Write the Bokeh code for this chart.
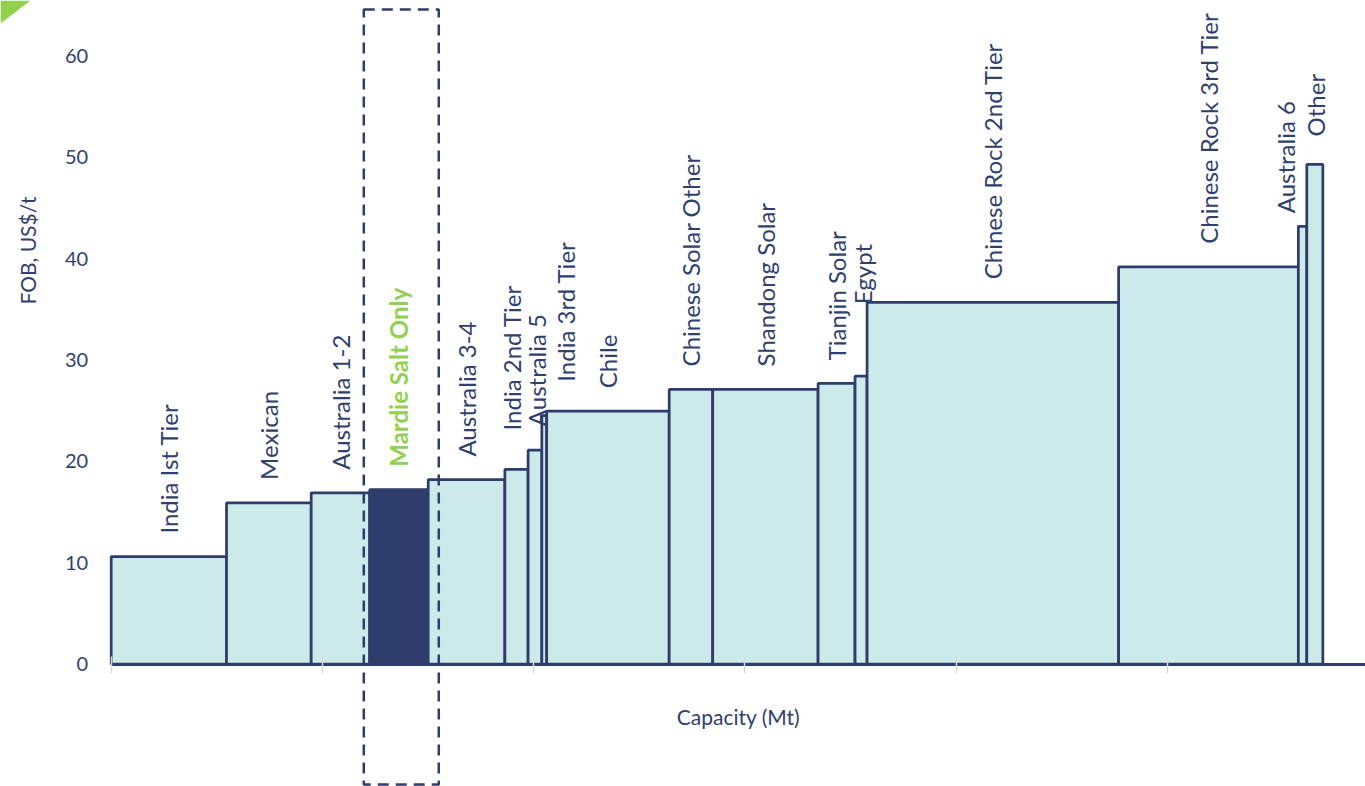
import numpy as np
from bokeh.plotting import figure
from bokeh.models import (ColumnDataSource, FixedTicker, BoxAnnotation,
                          PolyAnnotation, Range1d, LinearAxis)
from bokeh.embed import file_html
from bokeh.resources import INLINE
from bokeh.core.properties import value

# ---------------- data ----------------
producers = ["India Ist Tier", "Mexican", "Australia 1-2", "Mardie Salt Only",
             "Australia 3-4", "India 2nd Tier", "Australia 5", "India 3rd Tier",
             "Chile", "Chinese Solar Other", "Shandong Solar", "Tianjin Solar",
             "Egypt", "Chinese Rock 2nd Tier", "Chinese Rock 3rd Tier",
             "Australia 6", "Other"]
capacity_mt = [5.46, 4.01, 2.77, 2.77, 3.63, 1.10, 0.65, 0.23, 5.80, 2.06,
               4.99, 1.75, 0.57, 11.91, 8.51, 0.40, 0.76]
cost_usd_t = [10.6, 15.9, 16.9, 17.2, 18.2, 19.2, 21.1, 24.5, 24.95, 27.1,
              27.1, 27.7, 28.4, 35.7, 39.2, 43.2, 49.3]
highlight = "Mardie Salt Only"
x_ticks = [0, 10, 20, 30, 40, 50]
y_ticks = [0, 10, 20, 30, 40, 50, 60]
x_title = "Capacity (Mt)"
y_title = "FOB, US$/t"

# ---------------- styles ----------------
NAVY = "#2E3D6B"
TEXT = "#2F3F6E"
TEAL = "#CDEAEA"
GREEN = "#92D050"
FONT = "Lato"
# label nudges in screen px: (dx, extra lift)
label_nudge = {"India 2nd Tier": (-5, 16), "Australia 5": (2, 1),
               "India 3rd Tier": (21, 11), "Egypt": (1, 49),
               "Australia 6": (-17, -10), "Other": (1, 5)}
BASE_LIFT = 23

right = np.cumsum(capacity_mt)
left = right - np.array(capacity_mt)
center = (left + right) / 2

W, H = 1365, 786
PX_PER_MT = 21.12
PX_PER_USD = 10.133
X0_PX, Y0_PX = 110.7, 663.5      # where (0, 0) sits on the canvas
x_start, x_end = -X0_PX / PX_PER_MT, (W - X0_PX) / PX_PER_MT
y_start, y_end = -(H - Y0_PX) / PX_PER_USD, Y0_PX / PX_PER_USD

p = figure(width=W, height=H, output_backend="svg", toolbar_location=None,
           x_range=Range1d(x_start, x_end), y_range=Range1d(y_start, y_end),
           x_axis_location=None, y_axis_location=None,
           min_border_left=0, min_border_right=0, min_border_top=0,
           min_border_bottom=0)
p.outline_line_color = None
p.xgrid.visible = False
p.ygrid.visible = False
p.background_fill_color = "white"
p.border_fill_color = "white"

fills = [NAVY if n == highlight else TEAL for n in producers]
bars = ColumnDataSource(dict(left=left, right=right, top=cost_usd_t,
                             fill=fills, name=producers))
p.quad(left="left", right="right", bottom=0, top="top", source=bars,
       fill_color="fill", line_color=NAVY, line_width=2.75)

# labels above the bars
dx = [label_nudge.get(n, (0, 0))[0] for n in producers]
dy = [-(BASE_LIFT + label_nudge.get(n, (0, 0))[1]) for n in producers]
tcol = [GREEN if n == highlight else TEXT for n in producers]
tsty = ["bold" if n == highlight else "normal" for n in producers]
lab = ColumnDataSource(dict(x=center, y=cost_usd_t, text=producers, dx=dx,
                            dy=dy, color=tcol, style=tsty))
p.text(x="x", y="y", text="text", source=lab, angle=np.pi / 2,
       x_offset="dx", y_offset="dy", text_align="left",
       text_baseline="middle", text_font=value(FONT), text_font_size="24px",
       text_color="color", text_font_style="style")

# x axis drawn at y = 0
xa = LinearAxis(fixed_location=0, bounds=(0, x_end))
xa.ticker = FixedTicker(ticks=x_ticks)
xa.axis_line_color = NAVY
xa.axis_line_width = 3
xa.major_tick_line_color = "#D9D9D9"
xa.major_tick_line_width = 1.5
xa.major_tick_in = 8
xa.major_tick_out = 9
xa.minor_tick_line_color = None
xa.major_label_overrides = {t: "" for t in x_ticks}
xa.major_label_standoff = 0
xa.axis_label = x_title
xa.axis_label_text_font = FONT
xa.axis_label_text_font_size = "21px"
xa.axis_label_text_font_style = "normal"
xa.axis_label_text_color = TEXT
xa.axis_label_standoff = 30
p.add_layout(xa, "below")

# y axis drawn at x = 0
ya = LinearAxis(fixed_location=0)
ya.ticker = FixedTicker(ticks=y_ticks)
ya.axis_line_color = None
ya.major_tick_line_color = None
ya.minor_tick_line_color = None
ya.major_tick_in = 0
ya.major_tick_out = 0
ya.major_label_standoff = 23
ya.major_label_text_font = FONT
ya.major_label_text_font_size = "20px"
ya.major_label_text_color = TEXT
p.add_layout(ya, "left")

# y title
p.text(x=[-83.7 / PX_PER_MT], y=[40.8], text=[y_title], angle=np.pi / 2,
       text_align="center", text_baseline="middle", text_font=value(FONT),
       text_font_size="21px", text_color=TEXT)

# dashed highlight box around the Mardie bar
hi = producers.index(highlight)
p.add_layout(BoxAnnotation(left=left[hi] - 0.28, right=right[hi] + 0.50,
                           top=(Y0_PX - 9) / PX_PER_USD,
                           bottom=-(784 - Y0_PX) / PX_PER_USD,
                           fill_alpha=0, line_alpha=1,
                           line_color=NAVY, line_width=2.5, line_dash="11 7"))

# corner decoration
try:
    p.add_layout(PolyAnnotation(xs=[0, 30, 0], ys=[0, 0, 23],
                                xs_units="canvas", ys_units="canvas",
                                fill_color=GREEN, fill_alpha=1,
                                line_color=None))
except Exception:
    pass

open("out.html", "w").write(file_html(p, INLINE))
